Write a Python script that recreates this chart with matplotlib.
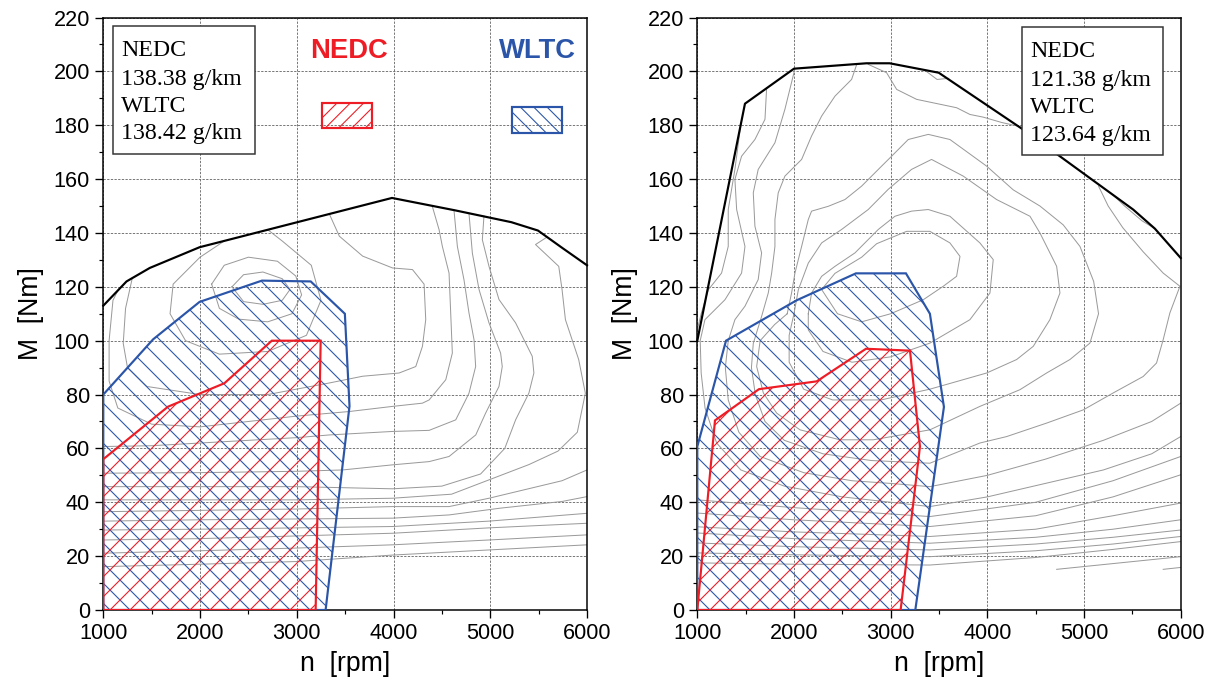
import matplotlib
matplotlib.use("Agg")
import matplotlib.pyplot as plt
from matplotlib.patches import Polygon, Rectangle
from matplotlib.ticker import MultipleLocator

# speed [rpm] / torque [Nm]

# ---- left engine ----
left_full_rpm = [1000, 1240, 1480, 1995, 3984, 4636, 5218, 5493, 5742, 6000]
left_full_nm = [113, 122, 127, 134.7, 153, 148.4, 144, 140.9, 134.5, 128]

left_nedc_rpm = [1000, 1000, 1669, 2252, 2742, 3247, 3195]
left_nedc_nm = [0, 56, 75.5, 84.2, 100, 100, 0]

left_wltc_rpm = [1000, 1000, 1515, 1995, 2640, 3144, 3497, 3545, 3298]
left_wltc_nm = [0, 80, 100.5, 114.4, 122.3, 122, 110, 75.7, 0]

left_co2 = ["NEDC", "138.38 g/km", "WLTC", "138.42 g/km"]

# bsfc iso-lines, left map
left_contours = [
    [(2330, 120), (2450, 124.5), (2650, 125.5), (2850, 123), (2930, 119), (2850, 115),
     (2650, 113.5), (2450, 114.5), (2330, 120)],
    [(2120, 121), (2250, 128), (2500, 131), (2800, 129.5), (2990, 124), (3050, 117),
     (2950, 110), (2700, 107), (2400, 108), (2200, 112), (2120, 121)],
    [(2250, 137), (2000, 131), (1722, 121), (1690, 110), (1850, 100), (2200, 95), (2700, 96),
     (3100, 102), (3250, 115), (3150, 128), (2850, 137), (2700, 141.2)],
    [(1300, 123.3), (1230, 112), (1206, 99), (1250, 90), (1450, 83), (2000, 80), (2700, 80),
     (3337, 84.3), (3681, 86.8), (4058, 88), (4230, 90.4), (4299, 97.9), (4333, 107.8),
     (4316, 121), (4196, 126.4), (3990, 127), (3681, 131.4), (3440, 138.8), (3337, 147)],
    [(1150, 118.6), (1100, 115), (1060, 100), (1060, 85), (1150, 75), (1500, 69), (2000, 68),
     (2500, 70), (3000, 72), (3543, 73.7), (3990, 75.6), (4299, 76.8), (4368, 78), (4540, 85.5),
     (4608, 95.4), (4591, 110.3), (4574, 125.1), (4505, 135), (4471, 141.2), (4400, 150)],
    [(1000, 60.7), (1500, 61), (2000, 62), (3000, 64), (3337, 65), (3990, 66.3), (4368, 66.7),
     (4643, 70.6), (4746, 78), (4780, 80.5), (4849, 90.4), (4832, 100.4), (4780, 110.3),
     (4728, 122.7), (4660, 135), (4625, 148.5)],
    [(1000, 50.8), (2000, 51), (3000, 51.5), (3474, 52), (3990, 53.9), (4368, 55.1), (4574, 57),
     (4850, 65), (4952, 73.1), (5090, 83), (5124, 90.4), (5107, 95.4), (4987, 106.6),
     (4884, 119), (4815, 132.5), (4780, 147.3)],
    [(1000, 45.8), (2000, 45.8), (3000, 45.8), (3990, 45), (4500, 46), (4900, 50.5), (5150, 60),
     (5262, 70.6), (5399, 80.5), (5451, 88), (5434, 94.2), (5262, 106.6), (5090, 115.3),
     (4987, 127.6), (4918, 137.5), (4935, 146.3)],
    [(1000, 40.9), (2000, 40.9), (3000, 40.9), (3990, 41.5), (4600, 43), (5000, 48.5), (5400, 54),
     (5700, 59), (5900, 66), (5983, 80.5), (5914, 93), (5777, 107.8), (5742, 119), (5708, 127.6),
     (5468, 135.7), (5588, 138.5)],
    [(1000, 36.5), (2000, 37), (3000, 37.5), (3990, 38.4), (4574, 38.4), (4987, 41.5), (5742, 48), (6000, 52)],
    [(1000, 33), (2000, 33.5), (3000, 33.8), (3990, 34.1), (4574, 35.3), (5100, 37.8), (5742, 40.3), (6000, 42.1)],
    [(1000, 29.7), (2000, 30), (3000, 30.5), (3990, 31), (4987, 33), (6000, 35.9)],
    [(1000, 26), (2000, 26.5), (3000, 27.5), (3990, 28.5), (4987, 30.5), (6000, 32.2)],
    [(1000, 21.1), (2000, 22), (3000, 23), (3990, 24.2), (4987, 26), (6000, 27.9)],
    [(1000, 16.1), (2000, 17), (3000, 18), (3990, 20.4), (4987, 22.3), (6000, 24.2)],
]

# ---- right engine ----
right_full_rpm = [1000, 1493, 2000, 2750, 2990, 3497, 4370, 5508, 5733, 6000]
right_full_nm = [100, 188, 201, 203, 203, 199.5, 178.4, 148.7, 141.6, 130.7]

right_nedc_rpm = [1000, 1183, 1638, 2235, 2745, 3200, 3303, 3103]
right_nedc_nm = [0, 70.4, 82, 84.9, 97, 96.3, 60.7, 0]

right_wltc_rpm = [1000, 1000, 1297, 2028, 2641, 3158, 3406, 3551, 3255]
right_wltc_nm = [0, 60.7, 100, 115, 125, 125, 110, 75.4, 0]

right_co2 = ["NEDC", "121.38 g/km", "WLTC", "123.64 g/km"]

right_contours = [
    [(2286, 119), (2424, 125), (2700, 131), (2855, 136), (3165, 140.6), (3406, 140.6),
     (3613, 136.3), (3717, 131.3), (3682, 123.9), (3544, 120.2), (3337, 115.2), (3000, 110),
     (2700, 107), (2450, 110), (2286, 119)],
    [(2148, 110), (2182, 117.7), (2286, 123.9), (2424, 127.6), (2631, 132.6), (2872, 141.3),
     (3044, 146.2), (3216, 148.1), (3389, 148.7), (3613, 146.2), (3923, 136.3), (4061, 130.1),
     (4027, 117.7), (3820, 107.8), (3406, 99.1), (3000, 94), (2600, 92), (2300, 96),
     (2148, 104), (2148, 110)],
    [(2000, 110), (2045, 118.9), (2148, 128.8), (2286, 136.3), (2493, 141.3), (2768, 148.7),
     (2975, 156.2), (3216, 163.6), (3423, 167.3), (3751, 161.1), (4096, 152.4), (4441, 146.2),
     (4544, 140), (4717, 127.6), (4751, 117.7), (4647, 107.8), (4475, 97.9), (4303, 93),
     (3993, 88), (3406, 82), (2900, 78), (2400, 78), (2100, 82), (1950, 92), (1950, 102), (2000, 110)],
    [(1930, 110), (1975, 117.7), (2010, 125.1), (2079, 135), (2148, 145), (2182, 148.1),
     (2355, 149.9), (2527, 152.4), (2700, 157.4), (2906, 164.8), (3010, 168.5), (3182, 174.7),
     (3389, 176.6), (3613, 174.7), (3993, 164.8), (4268, 156), (4544, 150), (4785, 143),
     (4958, 135), (5100, 122), (5150, 110), (5061, 99.1), (4854, 93), (4613, 88), (4337, 81.8),
     (3923, 75.6), (3406, 66.9), (2820, 63.2), (2476, 63.2), (2062, 66.9), (1821, 73.1),
     (1683, 80.6), (1614, 90.4), (1650, 100), (1800, 106), (1930, 110)],
    [(2768, 202.6), (2958, 199.5), (3062, 193.3), (3269, 189.6), (3682, 186.5), (3820, 184),
     (3958, 183), (4150, 181), (4337, 179.5)],
    [(2650, 202.7), (2596, 197), (2424, 190.8), (2286, 183.4), (2182, 176), (2079, 167.3),
     (1906, 161.1), (1837, 154.9), (1803, 145), (1803, 135), (1769, 125.1), (1734, 117.7),
     (1665, 109), (1579, 99), (1560, 90), (1600, 80), (1700, 70), (1900, 63), (2300, 58),
     (2800, 55.5), (3406, 54.5), (3923, 62), (4200, 64.4), (4613, 69.4), (4992, 74.3),
     (5302, 80.6), (5612, 86.7), (5750, 91.7), (5819, 100.4), (5888, 110.3), (5992, 120.2),
     (5819, 125.1), (5612, 133), (5400, 142), (5250, 150), (5150, 157.4)],
    [(2010, 201), (1906, 185.9), (1803, 173.5), (1630, 163.6), (1579, 154.9), (1596, 142.5),
     (1665, 132.6), (1630, 122.7), (1493, 112.8), (1389, 107.8), (1320, 100), (1290, 90),
     (1320, 78), (1430, 66), (1650, 57), (2100, 51), (2600, 48), (3000, 47), (3406, 45.8),
     (4000, 50), (4600, 56), (5200, 63), (5700, 70), (6000, 76.8)],
    [(1717, 193.7), (1700, 182.2), (1596, 174.7), (1458, 168.5), (1389, 159.9), (1407, 148.7),
     (1493, 135), (1458, 125.1), (1286, 115.2), (1079, 107.8), (1030, 100), (1040, 88),
     (1080, 75), (1200, 62), (1450, 52), (1900, 46), (2500, 42), (3406, 38.4), (4000, 42),
     (4600, 47), (5200, 52), (5700, 58), (6000, 64.4)],
    [(1450, 180.3), (1389, 163.6), (1320, 148.7), (1320, 135), (1251, 125.1), (1114, 118.9),
     (1040, 110), (1000, 104)],
    [(5300, 154.1), (5420, 150), (5600, 144.5), (5733, 141.6)],
    [(3350, 200.5), (3480, 197), (3600, 197.4)],
    [(1000, 40.9), (2000, 38), (3406, 34.7), (4500, 40), (5300, 48), (6000, 57)],
    [(1000, 36), (2000, 33.5), (3406, 31), (4500, 35), (5300, 42), (6000, 50.2)],
    [(1000, 30.9), (2000, 29), (3406, 27.3), (4500, 30), (5300, 35), (6000, 39.7)],
    [(1000, 28.6), (2000, 26.5), (3406, 24.8), (4500, 27), (5300, 30), (6000, 33.5)],
    [(1000, 24.9), (2000, 23.5), (3406, 22.3), (4500, 24.5), (5300, 27), (6000, 29.7)],
    [(1000, 21.2), (2000, 20.5), (3406, 19.8), (4500, 22), (5300, 24.5), (6000, 27.3)],
    [(1000, 17.5), (2000, 17), (3406, 16.7), (4500, 19.5), (5300, 22.5), (6000, 25.4)],
    [(4717, 15.1), (6000, 19.8)],
    [(5819, 15.1), (6000, 15.8)],
]

RED = "#ee1c25"
BLUE = "#2b55a8"
GREY = "#9a9a9a"

plt.rcParams["font.family"] = ["Liberation Sans", "DejaVu Sans"]
plt.rcParams["hatch.linewidth"] = 0.65

fig = plt.figure(figsize=(1212 / 120, 686 / 120), dpi=120)
ax_l = fig.add_axes([103.3 / 1212, 76 / 686, 483.7 / 1212, 592.5 / 686])
ax_r = fig.add_axes([697.3 / 1212, 76 / 686, 483.4 / 1212, 592.5 / 686])


def draw_map(ax, full_rpm, full_nm, nedc_rpm, nedc_nm, wltc_rpm, wltc_nm, contours):
    ax.set_xlim(1000, 6000)
    ax.set_ylim(0, 220)
    ax.xaxis.set_major_locator(MultipleLocator(1000))
    ax.xaxis.set_minor_locator(MultipleLocator(500))
    ax.yaxis.set_major_locator(MultipleLocator(20))
    ax.yaxis.set_minor_locator(MultipleLocator(10))
    ax.tick_params(which="major", direction="out", length=5, width=0.8, labelsize=13, pad=3)
    ax.tick_params(which="minor", direction="out", length=2.5, width=0.7)
    ax.grid(True, which="major", color="#6e6e6e", lw=0.55, ls=(0, (2.5, 1.5)))
    ax.set_axisbelow(True)
    for s in ax.spines.values():
        s.set_linewidth(0.9)

    for c in contours:
        xs = [p[0] for p in c]
        ys = [p[1] for p in c]
        ax.plot(xs, ys, color=GREY, lw=0.6, zorder=2)

    ax.add_patch(Polygon(list(zip(wltc_rpm, wltc_nm)), closed=True, fill=False,
                         edgecolor=BLUE, hatch="\\\\", lw=1.3, zorder=3))
    ax.add_patch(Polygon(list(zip(nedc_rpm, nedc_nm)), closed=True, fill=False,
                         edgecolor=RED, hatch="//", lw=1.3, zorder=4))
    ax.plot(full_rpm, full_nm, color="black", lw=1.3, zorder=5, clip_on=False)

    ax.set_xlabel("n  [rpm]", fontsize=16, labelpad=4)
    ax.set_ylabel("M  [Nm]", fontsize=16, labelpad=6)


def co2_box(ax, x_text, x0, x1, y0, y1, baselines, lines):
    ax.add_patch(Rectangle((x0, y0), x1 - x0, y1 - y0, transform=ax.transAxes,
                           fc="white", ec="#333333", lw=0.9, zorder=6))
    for yb, t in zip(baselines, lines):
        ax.text(x_text, yb, t, transform=ax.transAxes, va="baseline", ha="left",
                fontsize=14.3, family="Liberation Serif", zorder=7)


draw_map(ax_l, left_full_rpm, left_full_nm, left_nedc_rpm, left_nedc_nm,
         left_wltc_rpm, left_wltc_nm, left_contours)
draw_map(ax_r, right_full_rpm, right_full_nm, right_nedc_rpm, right_nedc_nm,
         right_wltc_rpm, right_wltc_nm, right_contours)

co2_box(ax_l, 0.0366, 0.0194, 0.3136, 0.7688, 0.9853,
        [0.9347, 0.8869, 0.8402, 0.7941], left_co2)
co2_box(ax_r, 0.6883, 0.6711, 0.9640, 0.7676, 0.9843,
        [0.9330, 0.8852, 0.8391, 0.7924], right_co2)

# cycle legend in the left map
ax_l.text(3537, 205, "NEDC", color=RED, fontsize=16.4, fontweight="bold",
          ha="center", va="baseline", zorder=7)
ax_l.text(5486, 205, "WLTC", color=BLUE, fontsize=16.4, fontweight="bold",
          ha="center", va="baseline", zorder=7)
ax_l.add_patch(Rectangle((3264, 178.9), 517, 9.2, fill=False, edgecolor=RED,
                         hatch="///", lw=1.3, zorder=7))
ax_l.add_patch(Rectangle((5228, 177.2), 517, 9.5, fill=False, edgecolor=BLUE,
                         hatch="\\\\\\", lw=1.3, zorder=7))

fig.savefig("out.png", dpi=120)
